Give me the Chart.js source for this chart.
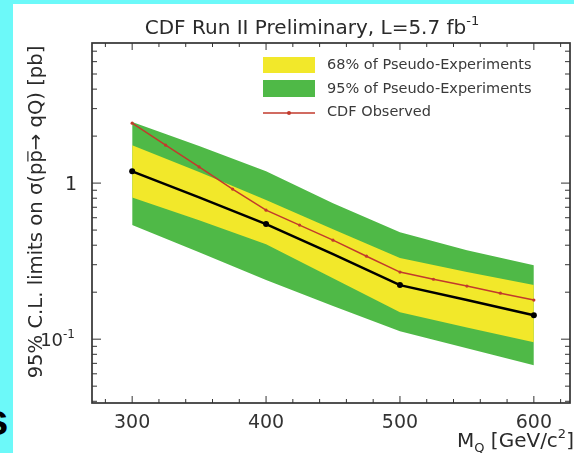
<!DOCTYPE html>
<html>
<head>
<meta charset="utf-8">
<script src="https://cdn.jsdelivr.net/npm/chart.js@4/dist/chart.umd.min.js"></script>
<style>
  html, body { margin: 0; padding: 0; }
  body { width: 574px; height: 453px; background: #6cf9f9; position: relative; overflow: hidden; }
  #wrap { position: absolute; left: 13px; top: 4px; width: 561px; height: 449px; background: #fff; }
  #cut { position: absolute; left: -16px; top: 398px; font: bold 44px "Liberation Sans", Arial, sans-serif; line-height: 44px; color: #000; }
</style>
</head>
<body>
<div id="cut">s</div>
<div id="wrap"><canvas id="c" width="561" height="449"></canvas></div>
<script>
// mass points (GeV/c^2) and limits (pb)
const massBand = [300, 350, 400, 450, 500, 550, 600];
const green95Up = [2.46, 1.73, 1.19, 0.744, 0.485, 0.372, 0.298];
const yellow68Up = [1.75, 1.18, 0.778, 0.507, 0.331, 0.269, 0.222];
const expected = [1.19, 0.81, 0.546, 0.351, 0.222, 0.178, 0.1425];
const yellow68Down = [0.81, 0.579, 0.406, 0.246, 0.149, 0.119, 0.0957];
const green95Down = [0.538, 0.361, 0.239, 0.163, 0.1125, 0.0875, 0.068];

const massObs = [300, 325, 350, 375, 400, 425, 450, 475, 500, 525, 550, 575, 600];
const observed = [2.42, 1.75, 1.27, 0.915, 0.671, 0.538, 0.431, 0.340, 0.269, 0.242, 0.219, 0.197, 0.178];

const xTickValues = [300, 400, 500, 600];
const yTickValues = [0.1, 1];

const legendLabels = ['68% of Pseudo-Experiments', '95% of Pseudo-Experiments', 'CDF Observed'];

const YELLOW = '#f2e82a';
const GREEN = '#4fb947';
const RED = '#c23a2c';
const FONT = '"DejaVu Sans", sans-serif';

const pts = (xs, ys) => xs.map((x, i) => ({ x: x, y: ys[i] }));

function drawRich(ctx, parts, x, y, align) {
  let w = 0;
  parts.forEach(p => { ctx.font = p.s + 'px ' + FONT; w += ctx.measureText(p.t).width; });
  let cx = align === 'center' ? x - w / 2 : align === 'right' ? x - w : x;
  parts.forEach(p => {
    ctx.font = p.s + 'px ' + FONT;
    ctx.fillText(p.t, cx, y + (p.dy || 0));
    const pw = ctx.measureText(p.t).width;
    if (p.over) {
      ctx.beginPath();
      ctx.lineWidth = 1.2;
      ctx.moveTo(cx + 1, y - p.s * 0.72);
      ctx.lineTo(cx + pw - 1, y - p.s * 0.72);
      ctx.stroke();
    }
    cx += pw;
  });
}

const decorations = {
  id: 'decorations',
  afterDraw(chart) {
    const { ctx, chartArea: a, scales: { x, y } } = chart;
    ctx.save();
    ctx.strokeStyle = '#333';
    ctx.lineWidth = 1;
    const seg = (x1, y1, x2, y2) => { ctx.beginPath(); ctx.moveTo(x1, y1); ctx.lineTo(x2, y2); ctx.stroke(); };

    // x ticks, every 20 GeV, inside on bottom and top
    for (let m = 280; m <= 620; m += 20) {
      const px = x.getPixelForValue(m);
      const len = m % 100 === 0 ? 7 : 4;
      seg(px, a.bottom, px, a.bottom - len);
      seg(px, a.top, px, a.top + len);
    }
    // y ticks, log decades
    for (let d = 0.01; d <= 10; d *= 10) {
      for (let k = 1; k <= 9; k++) {
        const v = d * k;
        if (v < y.min || v > y.max) continue;
        const py = y.getPixelForValue(v);
        const len = k === 1 ? 9 : 5;
        seg(a.left, py, a.left + len, py);
        seg(a.right, py, a.right - len, py);
      }
    }
    // frame
    ctx.lineWidth = 1.7;
    ctx.strokeRect(a.left, a.top, a.right - a.left, a.bottom - a.top);

    ctx.fillStyle = '#2a2a2a';
    ctx.strokeStyle = '#2a2a2a';
    ctx.textBaseline = 'alphabetic';

    // y tick labels
    const p1 = y.getPixelForValue(yTickValues[1]);
    drawRich(ctx, [{ t: '1', s: 19 }], 64, p1 + 7, 'right');
    const p01 = y.getPixelForValue(yTickValues[0]);
    drawRich(ctx, [{ t: '10', s: 18 }, { t: '-1', s: 12, dy: -8 }], 62, p01 + 7, 'right');

    // title
    drawRich(ctx, [{ t: 'CDF Run II Preliminary, L=5.7 fb', s: 20 }, { t: '-1', s: 13, dy: -9 }], 299, 30, 'center');

    // x title
    drawRich(ctx, [{ t: 'M', s: 20 }, { t: 'Q', s: 13, dy: 5 }, { t: ' [GeV/c', s: 20 }, { t: '2', s: 13, dy: -9 }, { t: ']', s: 20 }], 444, 443, 'left');

    // y title
    ctx.save();
    ctx.translate(29, 208);
    ctx.rotate(-Math.PI / 2);
    drawRich(ctx, [{ t: '95% C.L. limits on \u03C3(p', s: 19.6 }, { t: 'p', s: 19.6, over: true }, { t: '\u2192 qQ) [pb]', s: 19.6 }], 0, 0, 'center');
    ctx.restore();

    // legend
    ctx.fillStyle = YELLOW;
    ctx.fillRect(250, 53, 52, 16);
    ctx.fillStyle = GREEN;
    ctx.fillRect(250, 76, 52, 17);
    ctx.strokeStyle = RED;
    ctx.lineWidth = 1.5;
    seg(250, 109, 302, 109);
    ctx.fillStyle = RED;
    ctx.beginPath(); ctx.arc(276, 109, 2, 0, Math.PI * 2); ctx.fill();

    ctx.fillStyle = '#3a3a3a';
    ctx.font = '14.5px ' + FONT;
    ctx.textBaseline = 'middle';
    ctx.fillText(legendLabels[0], 314, 61);
    ctx.fillText(legendLabels[1], 314, 85);
    ctx.fillText(legendLabels[2], 314, 108);
    ctx.restore();
  }
};

new Chart(document.getElementById('c'), {
  type: 'line',
  data: {
    datasets: [
      { label: '95% up', data: pts(massBand, green95Up), fill: '+1', backgroundColor: GREEN, borderWidth: 0, pointRadius: 0, order: 5 },
      { label: '95% down', data: pts(massBand, green95Down), fill: false, borderWidth: 0, pointRadius: 0, order: 5 },
      { label: '68% up', data: pts(massBand, yellow68Up), fill: '+1', backgroundColor: YELLOW, borderWidth: 0, pointRadius: 0, order: 4 },
      { label: '68% down', data: pts(massBand, yellow68Down), fill: false, borderWidth: 0, pointRadius: 0, order: 4 },
      {
        label: 'Expected', data: pts(massBand, expected), fill: false, borderColor: '#000', borderWidth: 2.5,
        pointRadius: c => (massBand[c.dataIndex] % 100 === 0 ? 3 : 0), pointBackgroundColor: '#000', pointBorderWidth: 0, order: 1
      },
      {
        label: 'CDF Observed', data: pts(massObs, observed), fill: false, borderColor: RED, borderWidth: 1.5,
        pointRadius: 1.6, pointBackgroundColor: RED, pointBorderWidth: 0, order: 0
      }
    ]
  },
  options: {
    responsive: false,
    animation: false,
    devicePixelRatio: 1,
    layout: { padding: { left: 0, right: 3, top: 39, bottom: 0 } },
    plugins: { legend: { display: false }, tooltip: { enabled: false }, title: { display: false } },
    scales: {
      x: {
        type: 'linear', min: 270, max: 627,
        afterFit: s => { s.height = 50; },
        afterBuildTicks: s => { s.ticks = xTickValues.map(v => ({ value: v })); },
        grid: { display: false, drawTicks: false },
        border: { display: false },
        ticks: { font: { family: FONT, size: 19 }, color: '#333', padding: 9, maxRotation: 0, autoSkip: false }
      },
      y: {
        type: 'logarithmic', min: 0.039, max: 7.9,
        afterFit: s => { s.width = 79; },
        afterBuildTicks: s => { s.ticks = yTickValues.map(v => ({ value: v })); },
        grid: { display: false, drawTicks: false },
        border: { display: false },
        ticks: { display: false }
      }
    }
  },
  plugins: [decorations]
});
</script>
</body>
</html>
